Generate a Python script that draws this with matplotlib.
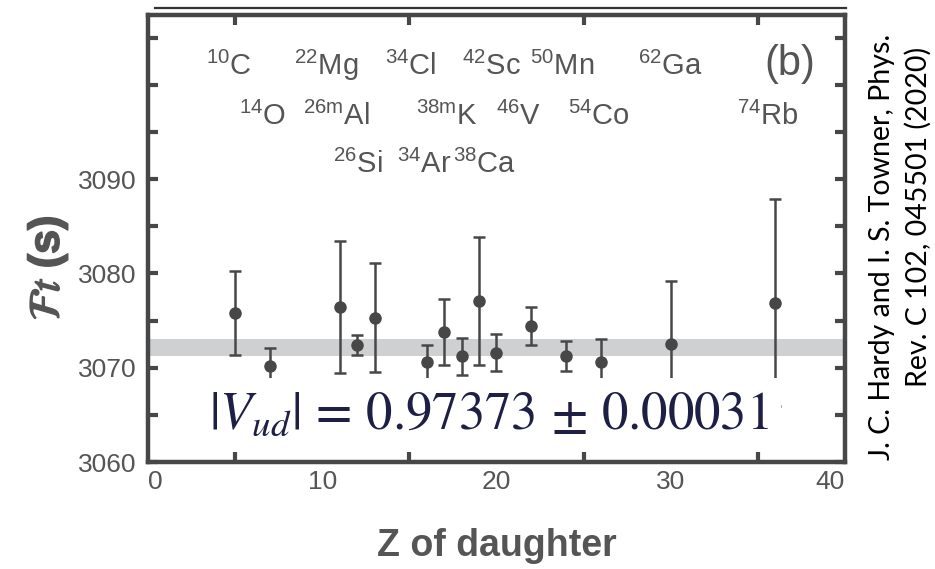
import numpy as np
import matplotlib.pyplot as plt
import matplotlib.patheffects as pe
from matplotlib.lines import Line2D

plt.rcParams['font.family'] = ['Liberation Sans', 'DejaVu Sans']
plt.rcParams['mathtext.fontset'] = 'custom'
plt.rcParams['mathtext.rm'] = 'Liberation Sans'
plt.rcParams['mathtext.it'] = 'Liberation Sans:italic'
plt.rcParams['mathtext.bf'] = 'Liberation Sans:bold'

# corrected Ft values of the superallowed emitters vs Z of daughter
z = [5, 7, 11, 12, 13, 16, 17, 18, 19, 20, 22, 24, 26, 30, 36]
ft = [3075.8, 3070.2, 3076.4, 3072.4, 3075.3, 3070.6, 3073.8, 3071.2,
      3077.1, 3071.6, 3074.4, 3071.2, 3070.6, 3072.5, 3076.9]
ft_err = [4.5, 1.9, 7.0, 1.1, 5.8, 1.8, 3.5, 2.0, 6.8, 2.0, 2.0, 1.6, 2.4, 6.7, 11.0]

ft_avg = 3072.1
ft_avg_err = 0.9

# element labels: (mass number, symbol, x, y) placed in data coords
nuclides = [
    ('10', 'C', 3.3, 3101.0), ('22', 'Mg', 8.4, 3101.0), ('34', 'Cl', 13.6, 3101.0),
    ('42', 'Sc', 18.0, 3101.0), ('50', 'Mn', 21.9, 3101.0), ('62', 'Ga', 28.1, 3101.0),
    ('14', 'O', 5.2, 3095.7), ('26m', 'Al', 8.9, 3095.7), ('38m', 'K', 15.4, 3095.7),
    ('46', 'V', 20.0, 3095.7), ('54', 'Co', 24.1, 3095.7), ('74', 'Rb', 33.8, 3095.7),
    ('26', 'Si', 10.6, 3090.6), ('34', 'Ar', 14.3, 3090.6), ('38', 'Ca', 17.5, 3090.6),
]

gray = '#555555'
dark = '#474747'

fig = plt.figure(figsize=(9.35, 5.69), dpi=100)
ax = fig.add_axes([0.1583, 0.188, 0.7454, 0.7856])

ax.axhspan(ft_avg - ft_avg_err, ft_avg + ft_avg_err, color='#cfd0d2', lw=0, zorder=1)
ax.errorbar(z, ft, yerr=ft_err, fmt='o', color=dark, ms=8, elinewidth=1.8,
            capsize=4.5, capthick=1.8, zorder=3)

ax.set_xlim(0, 40)
ax.set_ylim(3060, 3107.4)
ax.set_xticks([0, 10, 20, 30, 40])
ax.set_xticks(np.arange(5, 40, 5), minor=True)
ax.set_yticks([3060, 3070, 3080, 3090])
ax.set_yticks(np.arange(3065, 3107, 5), minor=True)
ax.tick_params(which='both', direction='in', top=True, right=True, color=dark,
               width=3, length=7, labelsize=19, labelcolor=gray)
ax.tick_params(axis='x', which='major', length=0, pad=6)
ax.tick_params(axis='y', which='major', length=7, pad=8)
xlabels = ax.get_xticklabels()
xlabels[0].set_ha('left')
xlabels[-1].set_ha('right')
for s in ax.spines.values():
    s.set_linewidth(3.2)
    s.set_color(dark)

for mass, sym, x, y in nuclides:
    ax.text(x, y, r'$^{\mathrm{%s}}$' % mass + sym, fontsize=21, color=gray,
            va='baseline')
ax.text(35.4, 3101.0, '(b)', fontsize=30, color=gray, va='baseline')

ax.text(19.6, 3065.0, r'$|V_{ud}|\, =\, 0.97373\, \pm\, 0.00031$', fontsize=38,
        color='#1d1f45', ha='center', va='center', math_fontfamily='stix',
        bbox=dict(boxstyle='square,pad=0.22', facecolor='white', edgecolor='none'),
        zorder=4)

ax.set_xlabel('Z of daughter', fontsize=27, fontweight='bold', color=gray, labelpad=24)
ylab = ax.set_ylabel(r'$\mathcal{F}\mathit{t}$ (s)', fontsize=31, fontweight='bold',
                     color=gray, math_fontfamily='stix')
ylab.set_path_effects([pe.withStroke(linewidth=1.2, foreground=gray)])
ax.yaxis.set_label_coords(-0.112, 0.434)

# thin rule above the frame
fig.add_artist(Line2D([0.166, 0.905], [0.986, 0.986], color='#333333', lw=1.6))

# citation, two rotated lines
fig.text(0.943, 1 - 247 / 569, 'J. C. Hardy and I. S. Towner, Phys.', rotation=90,
         ha='center', va='center', fontsize=20.5, family='Lato', color='black')
fig.text(0.982, 1 - 217 / 569, 'Rev. C 102, 045501 (2020)', rotation=90,
         ha='center', va='center', fontsize=20.5, family='Lato', color='black')

fig.savefig('out.png', dpi=100)
